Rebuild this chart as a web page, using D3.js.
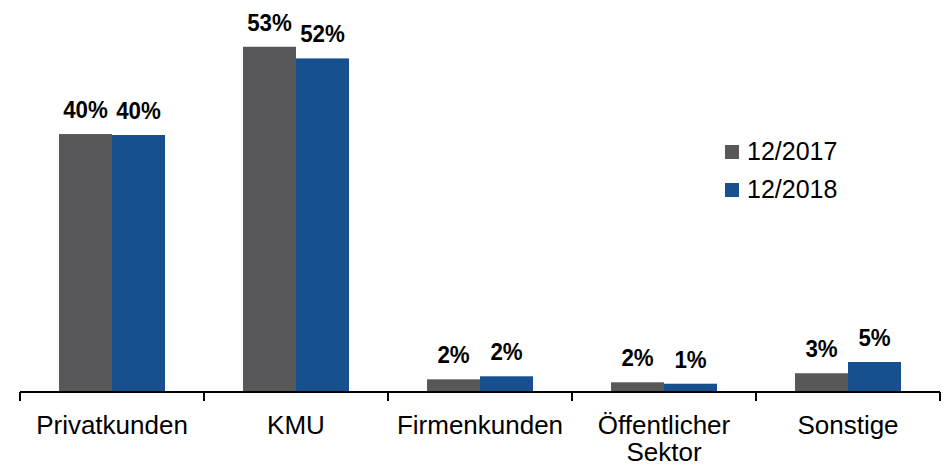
<!DOCTYPE html>
<html>
<head>
<meta charset="utf-8">
<script src="https://cdn.jsdelivr.net/npm/d3@7"></script>
<style>
  body { margin: 0; background: #fff; }
  text { font-family: "Liberation Sans", Arial, sans-serif; }
</style>
</head>
<body>
<svg id="chart" width="947" height="465"></svg>
<script>
// data
const categories = ["Privatkunden", "KMU", "Firmenkunden", "Öffentlicher\nSektor", "Sonstige"];
const series = ["12/2017", "12/2018"];
const values2017 = [39.9, 53.4, 1.96, 1.5, 2.9];
const values2018 = [39.75, 51.6, 2.43, 1.28, 4.64];
const labels2017 = ["40%", "53%", "2%", "2%", "3%"];
const labels2018 = ["40%", "52%", "2%", "1%", "5%"];
const colors = ["#58585a", "#16508e"];

const svg = d3.select("#chart");
const baseY = 392;

const x0 = d3.scaleBand()
  .domain(categories)
  .range([20, 940])
  .paddingInner(0.424)
  .paddingOuter(0.212);

const x1 = d3.scaleBand()
  .domain(series)
  .range([0, x0.bandwidth()]);

const y = d3.scaleLinear()
  .domain([0, 60])
  .range([baseY, baseY - 60 * 6.465]);

const rows = categories.map((c, i) => ({
  cat: c,
  vals: [
    { s: series[0], v: values2017[i], label: labels2017[i] },
    { s: series[1], v: values2018[i], label: labels2018[i] }
  ]
}));

const groups = svg.selectAll("g.grp")
  .data(rows)
  .join("g")
  .attr("class", "grp")
  .attr("transform", d => `translate(${x0(d.cat)},0)`);

groups.selectAll("rect")
  .data(d => d.vals)
  .join("rect")
  .attr("x", d => x1(d.s))
  .attr("width", x1.bandwidth())
  .attr("y", d => y(d.v))
  .attr("height", d => baseY - y(d.v))
  .attr("fill", (d, i) => colors[i]);

groups.selectAll("text.val")
  .data(d => d.vals)
  .join("text")
  .attr("class", "val")
  .attr("text-anchor", "middle")
  .attr("font-size", 24)
  .attr("font-weight", "bold")
  .attr("fill", "#000")
  .attr("transform", d => `translate(${x1(d.s) + x1.bandwidth() / 2},${y(d.v) - 16}) scale(0.93,1)`)
  .text(d => d.label);

// axis
const step = x0.step();
const bounds = categories.map(c => x0(c) + x0.bandwidth() / 2 - step / 2);
bounds.push(x0(categories[categories.length - 1]) + x0.bandwidth() / 2 + step / 2);

svg.append("line")
  .attr("x1", bounds[0]).attr("x2", bounds[bounds.length - 1])
  .attr("y1", baseY).attr("y2", baseY)
  .attr("stroke", "#000").attr("stroke-width", 2);

svg.selectAll("line.tick")
  .data(bounds)
  .join("line")
  .attr("class", "tick")
  .attr("x1", d => d).attr("x2", d => d)
  .attr("y1", baseY).attr("y2", baseY + 9)
  .attr("stroke", "#000").attr("stroke-width", 2);

svg.selectAll("text.cat")
  .data(categories)
  .join("text")
  .attr("class", "cat")
  .attr("text-anchor", "middle")
  .attr("font-size", 25)
  .attr("fill", "#000")
  .attr("transform", d => `translate(${x0(d) + x0.bandwidth() / 2},434) scale(1.04,1)`)
  .each(function (d) {
    d.split("\n").forEach((line, i) => {
      d3.select(this).append("tspan")
        .attr("x", 0)
        .attr("dy", i === 0 ? 0 : 27)
        .text(line);
    });
  });

// legend
const legend = svg.append("g").attr("transform", "translate(725,145)");
series.forEach((s, i) => {
  const row = legend.append("g").attr("transform", `translate(0,${i * 38})`);
  row.append("rect").attr("width", 14).attr("height", 14).attr("fill", colors[i]);
  row.append("text")
    .attr("x", 22).attr("y", 15)
    .attr("font-size", 25)
    .attr("fill", "#000")
    .text(s);
});
</script>
</body>
</html>
